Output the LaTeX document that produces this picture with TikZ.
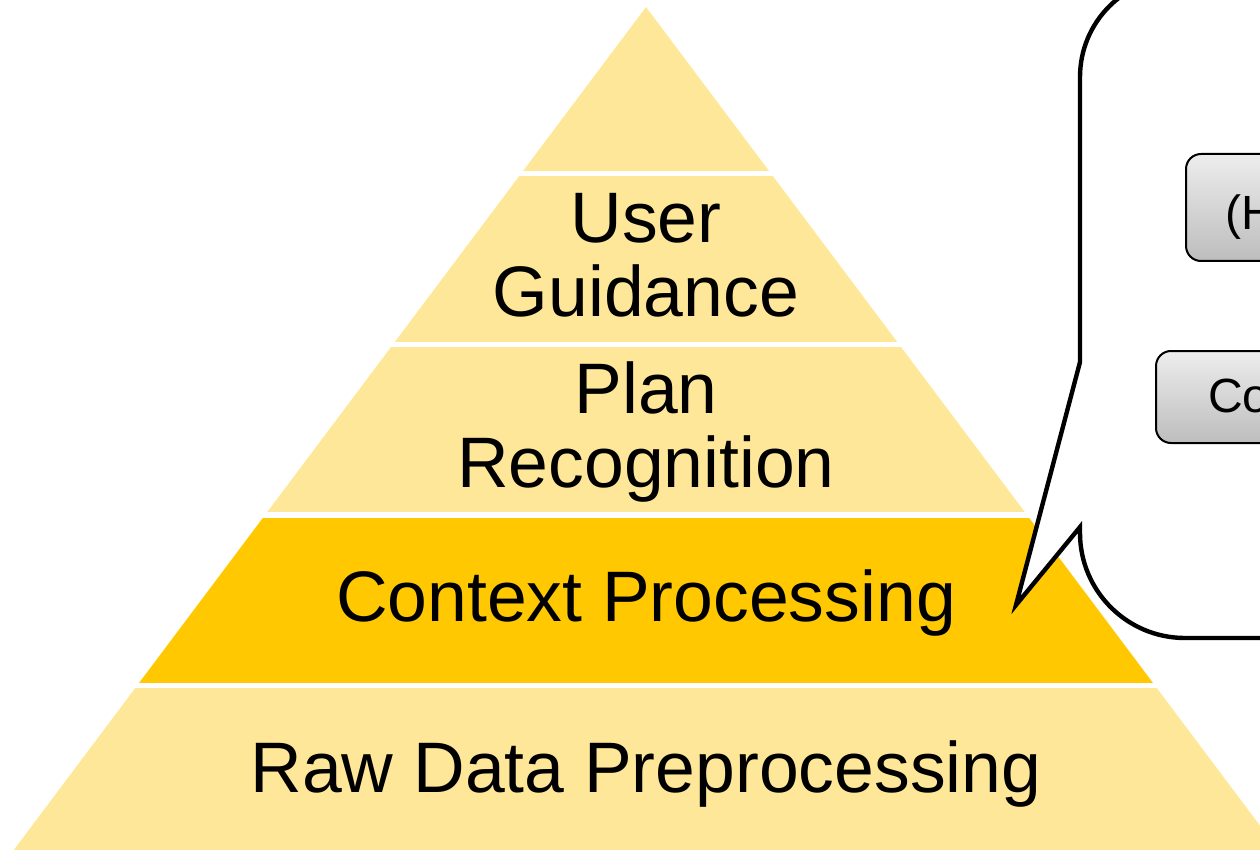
\documentclass[tikz,border=0pt]{standalone}
\usepackage{fontspec}
\setmainfont{Liberation Sans}
\definecolor{layerlight}{RGB}{255,231,153}
\definecolor{layerdark}{RGB}{255,200,0}
\definecolor{btntop}{RGB}{237,237,237}
\definecolor{btnbottom}{RGB}{189,189,189}
\begin{document}
\begin{tikzpicture}[x=1pt,y=-1pt,
  layertext/.style={font=\fontsize{71.5}{74.5}\selectfont, text=black, inner sep=0pt, align=center},
  bubble/.style={draw=black, fill=white, line width=4.4pt, line join=miter},
  button/.style={draw=black, line width=2pt, rounded corners=15pt,
    top color=btntop, bottom color=btnbottom, inner sep=0pt, anchor=north west},
  buttontext/.style={font=\fontsize{48}{56}\selectfont, text=black, inner sep=0pt, anchor=base west}]
\useasboundingbox (0,0) rectangle (1260,850);
\clip (0,0) rectangle (1260,850);

% pyramid: one triangle cut into five bands with white gaps
\coordinate (apex) at (646,7);
\coordinate (baseL) at (-122,1031);
\coordinate (baseR) at (1414,1031);
\begin{scope}
  \clip (apex) -- (baseL) -- (baseR) -- cycle;
  \fill[layerlight] (-200,0)     rectangle (1500,171);
  \fill[layerlight] (-200,176)   rectangle (1500,342);
  \fill[layerlight] (-200,347)   rectangle (1500,512);
  \fill[layerdark]  (-200,517.5) rectangle (1500,682.5);
  \fill[layerlight] (-200,688)   rectangle (1500,1100);
\end{scope}

% layer labels
\node[layertext] (guidance) at (646,255.5) {User\\Guidance};
\node[layertext] (plan) at (646,432) {Plan\\Recognition};
\node[layertext, anchor=base] (context) at (646,621) {Context Processing};
\node[layertext, anchor=base] (raw) at (646,792) {Raw Data Preprocessing};

% speech bubble pointing at the context layer
\coordinate (tip) at (1016,605);
\draw[bubble] (tip) -- (1080,527) -- (1080,533)
  .. controls (1080,591) and (1127,638) .. (1185,638)
  -- (1330,638) -- (1330,-23) -- (1180,-23)
  .. controls (1124.8,-23) and (1080,21.8) .. (1080,77)
  -- (1080,362) -- cycle;

% buttons inside the bubble
\node[button, minimum width=220pt, minimum height=107pt] (btnA) at (1185,153) {};
\node[button, minimum width=250pt, minimum height=92pt] (btnB) at (1155,350) {};
\node[buttontext] (btnAtext) at (1225,230) {(H};
\node[buttontext] (btnBtext) at (1208,412) {Co};
\end{tikzpicture}
\end{document}
